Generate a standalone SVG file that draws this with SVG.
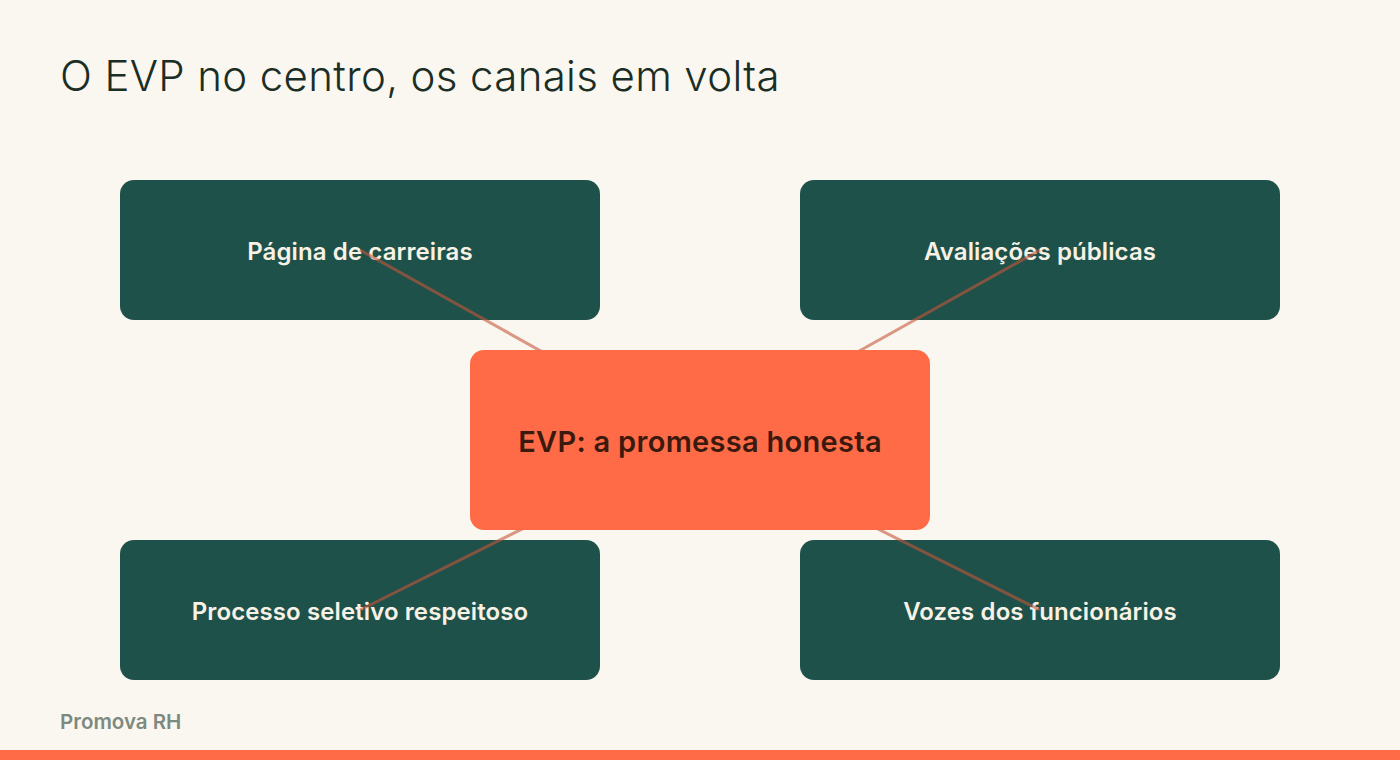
<svg xmlns="http://www.w3.org/2000/svg" width="1400" height="760" viewBox="0 0 1400 760">
<style>
.bg{fill:#FAF7F0}
.outer{fill:#1E5149}
.center{fill:#FF6B47}
.lbl{font-family:Inter,"Noto Sans","Liberation Sans",sans-serif;font-size:24px;font-weight:600;fill:#F7F1E6;text-anchor:middle;dominant-baseline:central;letter-spacing:0.1px}
.clbl{font-family:Inter,"Noto Sans","Liberation Sans",sans-serif;font-size:29px;font-weight:600;fill:#3A1A0E;text-anchor:middle;dominant-baseline:central;letter-spacing:0.3px}
.title{font-family:Inter,"Noto Sans","Liberation Sans",sans-serif;font-size:42px;font-weight:300;fill:#1B2E25;letter-spacing:0.35px}
.foot{font-family:Inter,"Noto Sans","Liberation Sans",sans-serif;font-size:20.5px;font-weight:600;fill:#7D8A80}
.conn{stroke:#C4573B;stroke-opacity:0.6;stroke-width:3;fill:none}
</style>
<rect class="bg" x="0" y="0" width="1400" height="760"/>
<text class="title" x="60" y="91">O EVP no centro, os canais em volta</text>
<g id="n1"><rect class="outer" x="120" y="180" width="480" height="140" rx="14"/><text class="lbl" x="360" y="251">Página de carreiras</text></g>
<g id="n2"><rect class="outer" x="800" y="180" width="480" height="140" rx="14"/><text class="lbl" x="1040" y="251">Avaliações públicas</text></g>
<g id="n3"><rect class="outer" x="120" y="540" width="480" height="140" rx="14"/><text class="lbl" x="360" y="611">Processo seletivo respeitoso</text></g>
<g id="n4"><rect class="outer" x="800" y="540" width="480" height="140" rx="14"/><text class="lbl" x="1040" y="611">Vozes dos funcionários</text></g>
<g id="connectors">
<line class="conn" x1="700" y1="440" x2="360" y2="250"/>
<line class="conn" x1="700" y1="440" x2="1040" y2="250"/>
<line class="conn" x1="700" y1="440" x2="360" y2="610"/>
<line class="conn" x1="700" y1="440" x2="1040" y2="610"/>
</g>
<g id="center"><rect class="center" x="470" y="350" width="460" height="180" rx="14"/><text class="clbl" x="700" y="441">EVP: a promessa honesta</text></g>
<text class="foot" x="60" y="729">Promova RH</text>
<rect x="0" y="750" width="1400" height="10" fill="#FF6B47"/>
</svg>
